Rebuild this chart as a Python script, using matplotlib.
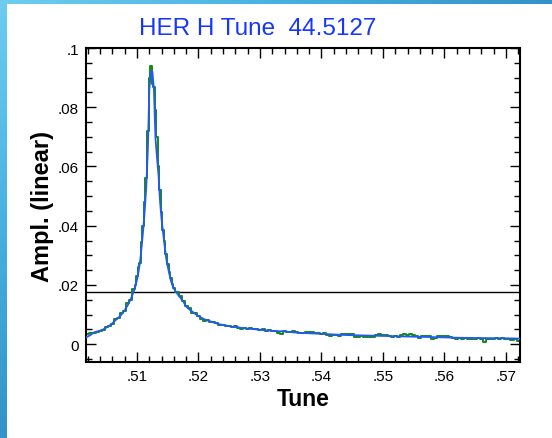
import numpy as np
import matplotlib
matplotlib.use("Agg")
import matplotlib.pyplot as plt
from matplotlib.patches import Rectangle
from matplotlib.ticker import MultipleLocator

plt.rcParams['font.family'] = ['Liberation Sans', 'DejaVu Sans']

# measured sweep (green)
meas_tune = [
    .5015, .5020, .5025, .5030, .5035, .5040, .5045, .5050, .5055, .5060,
    .5065, .5070, .5075, .5080, .5085, .5090, .5095,
    .50975, .5100, .51025, .5105, .51075, .5110, .51125, .5115, .51175, .5120,
    .51225, .5125, .51275, .5130, .51325, .5135, .51375, .5140, .51425, .5145,
    .51475, .5150, .51525, .5155, .51575,
    .5160, .5165, .5170, .5175, .5180, .5185, .5190, .5195, .5200, .5205,
    .5210, .5215, .5220, .5225, .5230, .5235, .5240, .5245, .5250, .5255,
    .5260, .5265, .5270, .5275, .5280, .5285, .5290, .5295, .5300, .5305,
    .5310, .5315, .5320, .5325, .5330, .5335, .5340, .5345, .5350, .5355,
    .5360, .5365, .5370, .5375, .5380, .5385, .5390, .5395, .5400, .5405,
    .5410, .5415, .5420, .5425, .5430, .5435, .5440, .5445, .5450, .5455,
    .5460, .5465, .5470, .5475, .5480, .5485, .5490, .5495, .5500, .5505,
    .5510, .5515, .5520, .5525, .5530, .5535, .5540, .5545, .5550, .5555,
    .5560, .5565, .5570, .5575, .5580, .5585, .5590, .5595, .5600, .5605,
    .5610, .5615, .5620, .5625, .5630, .5635, .5640, .5645, .5650, .5655,
    .5660, .5665, .5670, .5675, .5680, .5685, .5690, .5695, .5700, .5705,
    .5710, .5715, .5720, .5725,
]
meas_ampl = [
    .0024, .0034, .0038, .0037, .0041, .0044, .0049, .0058, .0061, .0069,
    .0085, .0089, .0104, .0113, .0138, .0150, .0186,
    .0200, .0232, .0262, .0275, .0345, .0400, .0480, .0560, .0720, .0900,
    .0938, .0880, .0870, .0790, .0700, .0600, .0520, .0445, .0385, .0350,
    .0305, .0270, .0245, .0222, .0205,
    .0190, .0176, .0164, .0146, .0128, .0122, .0106, .0104, .0096, .0086,
    .0080, .0083, .0076, .0074, .0071, .0066, .0066, .0061, .0062, .0058,
    .0060, .0056, .0050, .0054, .0052, .0054, .0050, .0052, .0048, .0051,
    .0046, .0048, .0044, .0046, .0039, .0036, .0044, .0042, .0040, .0043,
    .0041, .0037, .0039, .0041, .0042, .0040, .0038, .0039, .0036, .0038,
    .0030, .0029, .0030, .0031, .0029, .0035, .0036, .0035, .0034, .0026,
    .0025, .0027, .0025, .0026, .0024, .0025, .0031, .0033, .0030, .0032,
    .0027, .0025, .0029, .0024, .0031, .0033, .0030, .0033, .0031, .0029,
    .0021, .0028, .0027, .0028, .0019, .0022, .0027, .0029, .0028, .0027,
    .0023, .0020, .0019, .0021, .0018, .0020, .0017, .0019, .0018, .0020,
    .0016, .0008, .0017, .0019, .0016, .0020, .0018, .0021, .0017, .0019,
    .0014, .0016, .0012, .0015,
]

# fitted curve (blue)
fit_tune = [
    .5015, .5020, .5025, .5030, .5035, .5040, .5045, .5050, .5055, .5060,
    .5065, .5070, .5075, .5080, .5085, .5090, .5095, .50975, .5100, .51025,
    .5105, .51075, .5110, .51125, .5115, .51175, .5120, .51225, .5124, .5125,
    .51275, .5130, .51325, .5135, .51375, .5140, .51425, .5145, .51475, .5150,
    .51525, .5155, .51575, .5160, .5165, .5170, .5175, .5180, .5185, .5190,
    .5195, .5200, .5205, .5210, .5215, .5220, .5225, .5230, .5235, .5240,
    .5245, .5250, .5255, .5260, .5265, .5270, .5275, .5280, .5285, .5290,
    .5295, .5300, .5305, .5310, .5320, .5330, .5340, .5350, .5360, .5370,
    .5380, .5390, .5400, .5420, .5440, .5460, .5480, .5500, .5520, .5540,
    .5560, .5580, .5600, .5620, .5650, .5700, .5725,
]
fit_ampl = [
    .0021, .0026, .0032, .0040, .0043, .0046, .0050, .0056, .0062, .0071,
    .0081, .0090, .0101, .0115, .0132, .0153, .0180, .0198, .0218, .0245,
    .0280, .0328, .0385, .0450, .0530, .0650, .0860, .0915, .0923, .0920,
    .0860, .0695, .0630, .0570, .0480, .0420, .0375, .0330, .0290, .0262,
    .0238, .0215, .0200, .0188, .0172, .0158, .0145, .0127, .0118, .0110,
    .0102, .0095, .0089, .0084, .0080, .0077, .0073, .0070, .0067, .0065,
    .0063, .0061, .0059, .0058, .0057, .0055, .0054, .0053, .0052, .0051,
    .0050, .0049, .0048, .0047, .0045, .0044, .0043, .0041, .0039, .0038,
    .0037, .0036, .0035, .0033, .0031, .0030, .0029, .0028, .0027, .0026,
    .0025, .0024, .0023, .0022, .0021, .0020, .0019,
]

threshold = 0.0175
x_ticks = [.51, .52, .53, .54, .55, .56, .57]
x_labels = ['.51', '.52', '.53', '.54', '.55', '.56', '.57']
y_ticks = [0, .02, .04, .06, .08, .1]
y_labels = ['0', '.02', '.04', '.06', '.08', '.1']

fig = plt.figure(figsize=(5.52, 4.39), dpi=100)

# blue frame strip behind the white panel (light top-left, darker right/bottom)
bg = fig.add_axes([0, 0, 1, 1], zorder=-2)
gx, gy = np.meshgrid(np.linspace(0, 1, 200), np.linspace(0, 1, 200))
frame_cmap = matplotlib.colors.LinearSegmentedColormap.from_list(
    'frame', ['#6ccdf0', '#45aee0', '#2f8cc4', '#1f6f92'])
bg.imshow(0.6 * gx + 0.6 * gy, aspect='auto', cmap=frame_cmap, vmin=0, vmax=1,
          extent=[0, 1, 0, 1], origin='upper')
bg.set_axis_off()
fig.patches.append(Rectangle((7 / 552, 0), 1, 1 - 5 / 439, transform=fig.transFigure,
                             facecolor='white', edgecolor='none', zorder=-1))

ax = fig.add_axes([86 / 552, 76 / 439, 434 / 552, 314 / 439])
ax.plot(meas_tune, meas_ampl, color='#138a13', lw=1.4, drawstyle='steps-mid', zorder=2)
ax.plot(fit_tune, fit_ampl, color='#2457ff', lw=1.3, zorder=3)
ax.axhline(threshold, color='black', lw=1.0, zorder=1)

ax.set_xlim(.5017, .5723)
ax.set_ylim(-0.006, 0.1)

ax.set_xticks(x_ticks)
ax.set_xticklabels(x_labels)
ax.set_yticks(y_ticks)
ax.set_yticklabels(y_labels)
ax.xaxis.set_minor_locator(MultipleLocator(0.002))
ax.yaxis.set_minor_locator(MultipleLocator(0.005))
ax.tick_params(which='both', direction='in', top=True, right=True,
               labelsize=11, width=1.0, colors='black')
ax.tick_params(which='major', length=7.5, pad=5)
ax.tick_params(which='minor', length=4)
for s in ax.spines.values():
    s.set_linewidth(1.5)

ax.set_xlabel('Tune', fontsize=16.5, fontweight='bold', labelpad=3)
ax.set_ylabel('Ampl. (linear)', fontsize=17, fontweight='bold', labelpad=3)
fig.text(258 / 552, 1 - 29 / 439, 'HER H Tune  44.5127', color='#1636ff', fontsize=17.5,
         ha='center', va='center')

fig.savefig('out.png', dpi=100)
